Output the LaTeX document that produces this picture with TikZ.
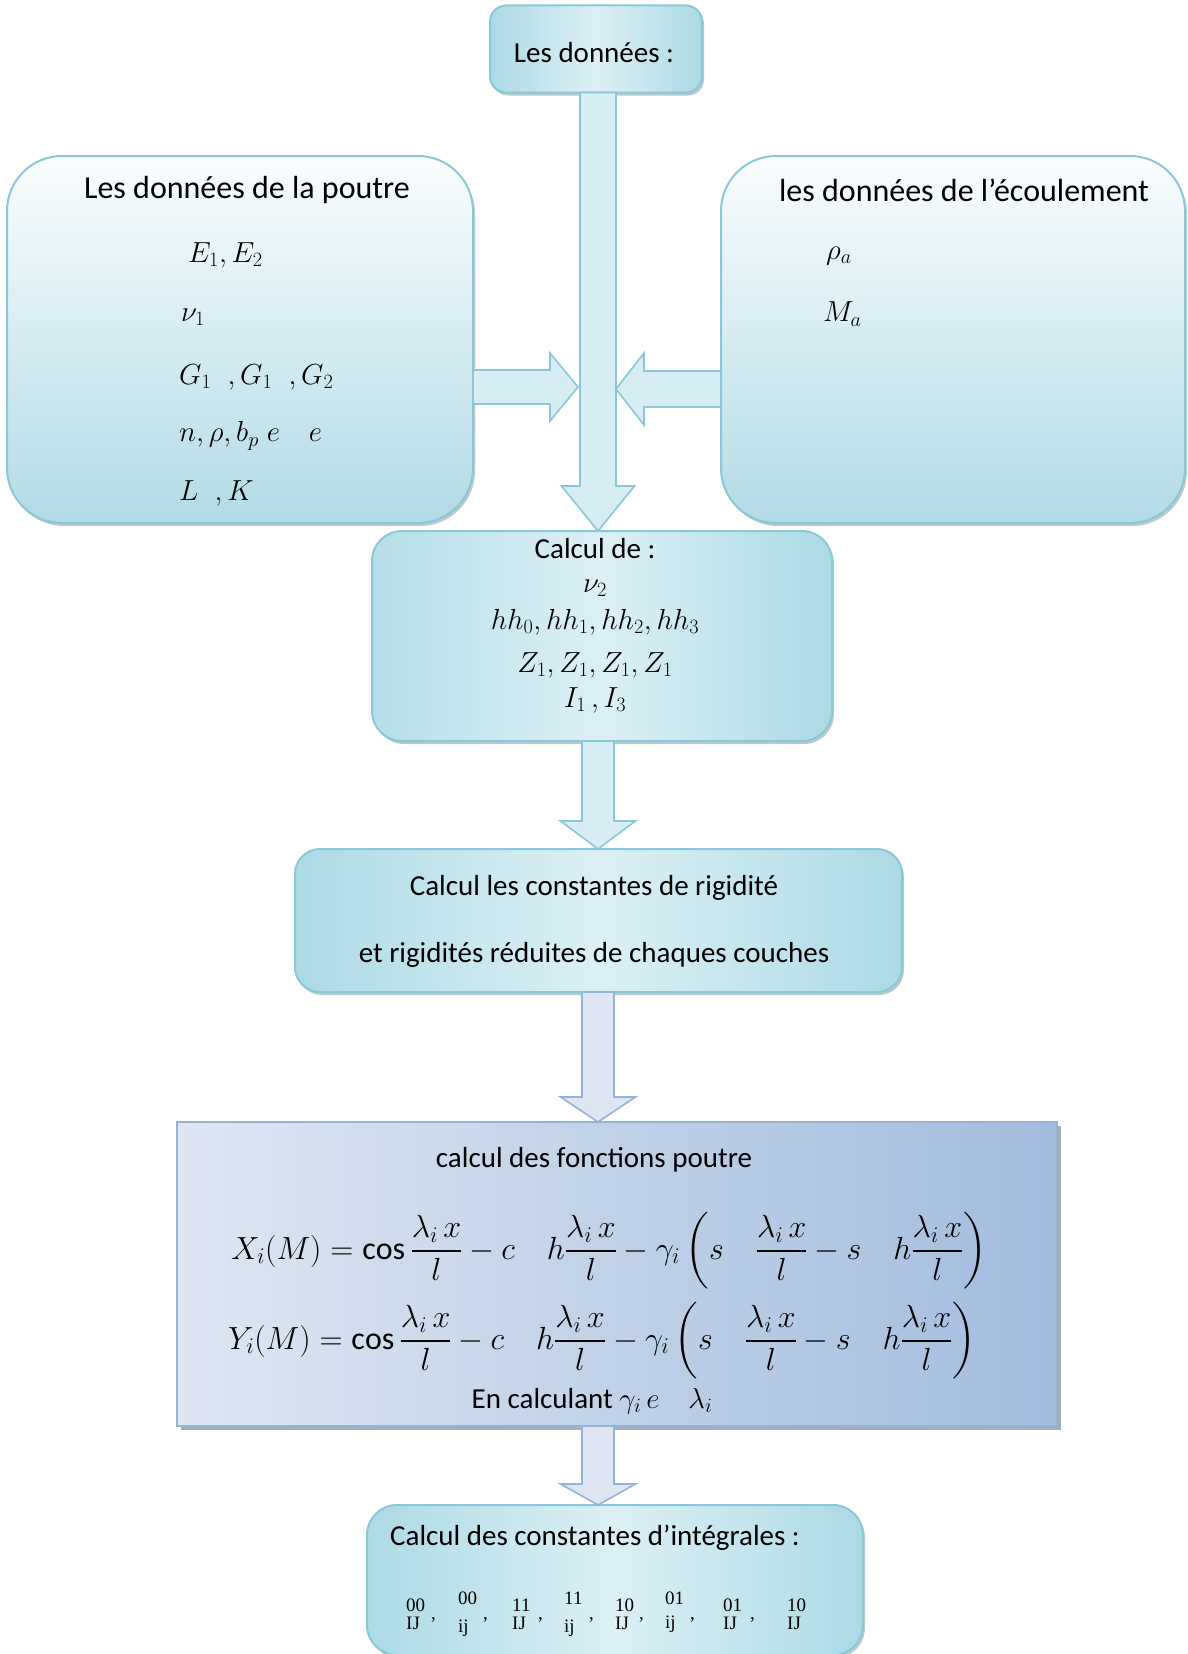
\RequirePackage{fix-cm}
\documentclass[tikz,border=0pt]{standalone}
\usepackage{amsmath,amssymb}
\usepackage{fontspec}
\setmainfont{Carlito}
\newfontfamily\timesfont{Liberation Serif}
\usepackage{tikz}
\usetikzlibrary{calc,shadows,positioning}

\definecolor{tealline}{RGB}{138,200,217}
\definecolor{tealtop}{RGB}{250,253,254}
\definecolor{tealbot}{RGB}{178,219,230}
\definecolor{tealmid}{RGB}{220,240,245}
\definecolor{tealdark}{RGB}{172,218,229}
\definecolor{tealfill}{RGB}{214,237,243}
\definecolor{blueline}{RGB}{149,179,215}
\definecolor{bluelight}{RGB}{222,230,242}
\definecolor{bluedark}{RGB}{162,188,221}
\definecolor{bluefill}{RGB}{222,230,243}
\definecolor{shadowgray}{RGB}{128,156,166}

\tikzset{
  tealbox/.style={draw=tealline, line width=2pt, inner sep=0pt, outer sep=0pt,
    drop shadow={shadow xshift=2pt, shadow yshift=-3pt, fill=shadowgray, opacity=.55}},
  bluebox/.style={draw=blueline, line width=2.5pt, inner sep=0pt, outer sep=0pt,
    left color=bluelight, right color=bluedark,
    drop shadow={shadow xshift=4pt, shadow yshift=-4pt, fill=shadowgray!80!black, opacity=.6}},
  txt/.style={font=\fontsize{29}{34}\selectfont, inner sep=0pt},
  headtxt/.style={font=\fontsize{32}{38}\selectfont, inner sep=0pt},
  eqtxt/.style={font=\fontsize{32}{38}\selectfont, inner sep=0pt, anchor=west},
  idxtxt/.style={font=\timesfont\fontsize{19}{19}\selectfont, inner sep=0pt, anchor=west},
  tealarrow/.style={draw=tealline, line width=1.6pt, fill=tealfill, line join=miter},
  bluearrow/.style={draw=blueline, line width=1.6pt, fill=bluefill, line join=miter}
}

% fat arrow: from, to, style, half shaft, half head, head length
\newcommand{\fatarrow}[6]{%
  \path (#1) coordinate (fa-s) (#2) coordinate (fa-t);
  \path ($(fa-t)!#6pt!(fa-s)$) coordinate (fa-b);
  \draw[#3] ($(fa-s)!#4pt!90:(fa-t)$) -- ($(fa-b)!#4pt!90:(fa-t)$)
    -- ($(fa-b)!#5pt!90:(fa-t)$) -- (fa-t)
    -- ($(fa-b)!#5pt!-90:(fa-t)$) -- ($(fa-b)!#4pt!-90:(fa-t)$)
    -- ($(fa-s)!#4pt!-90:(fa-t)$) -- cycle;}

\begin{document}
\begin{tikzpicture}[x=1pt,y=-1pt]
\useasboundingbox (0,0) rectangle (1187,1654);

% Les donnees
\node[tealbox, rounded corners=16pt, minimum width=212pt, minimum height=87pt,
  left color=tealdark, right color=tealdark, middle color=tealmid] (donnees) at (596,49) {};
\node[txt] at (594,53) {Les données :};

% poutre / ecoulement
\node[tealbox, rounded corners=55pt, minimum width=466pt, minimum height=367pt,
  top color=tealtop, bottom color=tealbot] (poutre) at (240,339.5) {};
\node[tealbox, rounded corners=55pt, minimum width=464pt, minimum height=367pt,
  top color=tealtop, bottom color=tealbot] (ecoul) at (953,339.5) {};

\node[headtxt] at (247,190) {Les données de la poutre};
\node[txt, anchor=west] at (188,255) {$E_1, E_2$};
\node[txt, anchor=west] at (181,317) {$\nu_1$};
\node[txt, anchor=west] at (179,377) {$G_1\;\;, G_1\;\;, G_2$};
\node[txt, anchor=west] at (179,436) {$n, \rho, b_p\; e\quad e$};
\node[txt, anchor=west] at (179,493) {$L\;\;, K$};

\node[headtxt] at (964,190) {les données de l’écoulement};
\node[txt, anchor=west] at (826,256) {$\rho_a$};
\node[txt, anchor=west] at (823,314) {$M_a$};

% Calcul de
\node[tealbox, rounded corners=30pt, minimum width=460pt, minimum height=210pt,
  left color=tealdark!80!tealmid, right color=tealdark, middle color=tealmid] (calc) at (602,636) {};
\node[txt] at (595,549) {Calcul de :};
\node[txt] at (595,588) {$\nu_2$};
\node[txt] at (595,622) {$hh_0, hh_1, hh_2, hh_3$};
\node[txt] at (595,665) {$Z_1, Z_1, Z_1, Z_1$};
\node[txt] at (595,700) {$I_1\,, I_3$};

% rigidites
\node[tealbox, rounded corners=25pt, minimum width=607pt, minimum height=143pt,
  left color=tealdark, right color=tealdark, middle color=tealmid] (rigid) at (598.5,920.5) {};
\node[txt] at (594,888) {Calcul les constantes de rigidité};
\node[txt] at (594,955) {et rigidités réduites de chaques couches};

% fonctions poutre
\node[bluebox, minimum width=880pt, minimum height=304pt] (fonct) at (617,1274) {};
\node[txt] at (594,1160) {calcul des fonctions poutre};
\node[eqtxt] at (231,1251) {$\displaystyle X_i(M) = \cos\frac{\lambda_i\,x}{l} - c\quad h\frac{\lambda_i\,x}{l} - \gamma_i\left(s\quad\frac{\lambda_i\,x}{l} - s\quad h\frac{\lambda_i\,x}{l}\right)$};
\node[eqtxt] at (228,1341) {$\displaystyle Y_i(M) = \cos\frac{\lambda_i\,x}{l} - c\quad h\frac{\lambda_i\,x}{l} - \gamma_i\left(s\quad\frac{\lambda_i\,x}{l} - s\quad h\frac{\lambda_i\,x}{l}\right)$};
\node[txt] at (592,1401) {En calculant $\gamma_i\, e\quad \lambda_i$};

% constantes d'integrales
\node[tealbox, rounded corners=30pt, minimum width=496pt, minimum height=150pt,
  left color=tealdark, right color=tealdark, middle color=tealmid] (integ) at (615,1580) {};
\node[txt] at (595,1538) {Calcul des constantes d’intégrales :};
\foreach \xa/\up/\dn/\yu/\yd in {406/00/IJ/1605/1623, 458/00/ij/1598/1628, 512/11/IJ/1605/1623,
    564/11/ij/1598/1628, 615/10/IJ/1605/1623, 665/01/ij/1598/1624, 723/01/IJ/1605/1623, 787/10/IJ/1605/1623}{
  \node[idxtxt] at (\xa,\yu) {\up};
  \node[idxtxt] at (\xa,\yd) {\dn};
}
\foreach \xc in {431,483,538,589,639,690,750}
  \node[idxtxt] at (\xc,1620) {,};

% connectors
\coordinate (axis) at (598,0);
\coordinate (tipL) at (578,387);
\coordinate (tipR) at (616,389);
\fatarrow{donnees.south -| axis}{calc.north -| axis}{tealarrow}{18}{36.5}{45}
\fatarrow{poutre.east |- tipL}{tipL}{tealarrow}{17}{34}{28}
\fatarrow{ecoul.west |- tipR}{tipR}{tealarrow}{18}{36}{28}
\fatarrow{calc.south -| axis}{rigid.north -| axis}{tealarrow}{16}{37.5}{28}
\fatarrow{rigid.south -| axis}{fonct.north -| axis}{bluearrow}{16}{37.5}{25}
\fatarrow{fonct.south -| axis}{integ.north -| axis}{bluearrow}{16}{37.5}{21}
\end{tikzpicture}
\end{document}
